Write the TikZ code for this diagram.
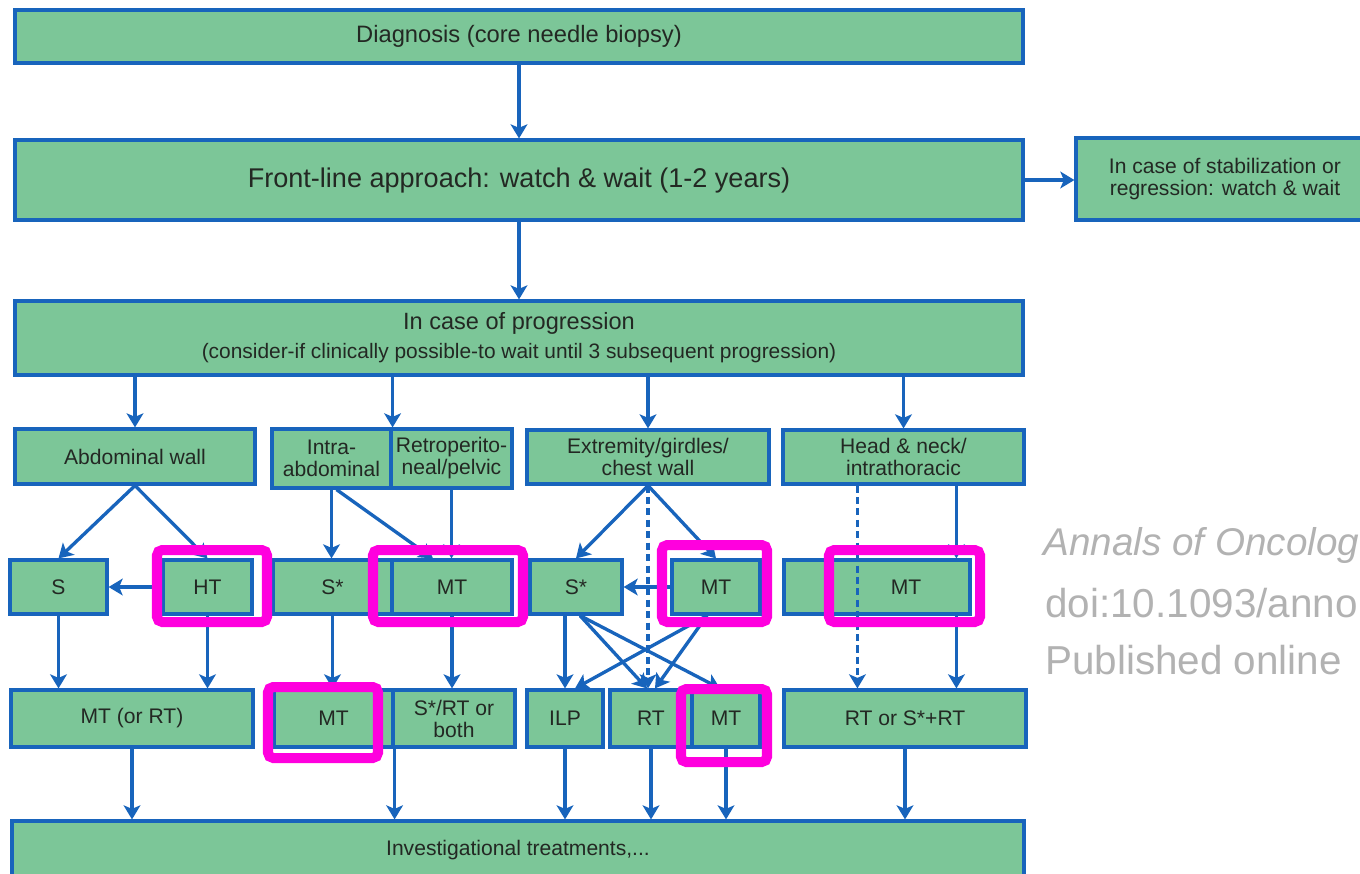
\documentclass[tikz,border=0pt]{standalone}
\usepackage{fontspec}
\setmainfont{Liberation Sans}
\usetikzlibrary{arrows.meta,calc}
\definecolor{boxgreen}{RGB}{124,198,152}
\definecolor{boxblue}{RGB}{24,100,188}
\definecolor{hilite}{RGB}{255,0,222}
\definecolor{txt}{RGB}{35,40,35}

\begin{document}
\begin{tikzpicture}[x=0.02cm, y=-0.02cm,
	box/.style={draw=boxblue, fill=boxgreen, line width=1.8pt, inner sep=0pt, align=center, text=txt, font=\fontsize{12}{12.5}\selectfont},
	sz/.style 2 args={minimum width=#1*0.02cm, minimum height=#2*0.02cm},
	arr/.style={draw=boxblue, line width=1.9pt, -{Stealth[length=8pt,width=9.5pt,inset=2pt]}},
	dsh/.style={dash pattern=on 4pt off 2.5pt},
	hl/.style={draw=hilite, line width=5.7pt, rounded corners=3pt},
	side/.style={anchor=west, inner sep=0pt, text=gray!60, font=\fontsize{23}{25}\selectfont}]
	\useasboundingbox (0,0) rectangle (1360,873);
	\clip (0,0) rectangle (1360,873);
	\fill[white] (0,0) rectangle (1360,873);

	\node[box, sz={1008}{53}, font=\fontsize{13.5}{16}\selectfont] (diag) at (519,36.5) {Diagnosis (core needle biopsy)};
	\node[box, sz={1008}{80}, font=\fontsize{15.4}{18}\selectfont] (front) at (519,180) {Front-line approach: watch \& wait (1-2 years)};
	\node[box, sz={298}{82}] (stab) at (1225,179) {In case of stabilization or\\regression: watch \& wait};
	\node[box, sz={1008}{74}, font=\fontsize{11.9}{14}\selectfont] (prog) at (519,338) {{\fontsize{13.4}{15}\selectfont In case of progression}\\[2.5pt](consider-if clinically possible-to wait until 3 subsequent progression)};

	\node[box, sz={240}{55}] (abd) at (135,456.5) {Abdominal wall};
	\node[box, sz={119}{59}] (intra) at (331.5,458.5) {Intra-\\abdominal};
	\node[box, sz={121}{59}] (retro) at (451.5,458.5) {Retroperito-\\neal/pelvic};
	\node[box, sz={242}{54}] (extr) at (648,457) {Extremity/girdles/\\chest wall};
	\node[box, sz={241}{54}] (head) at (903.5,457) {Head \& neck/\\intrathoracic};

	\node[box, sz={97}{54}] (S) at (58.5,587) {S};
	\node[box, sz={89}{54}] (HT) at (207.5,587) {HT};
	\node[box, sz={119}{54}] (Sst) at (332.5,587) {S*};
	\node[box, sz={120}{54}] (MTa) at (452,587) {MT};
	\node[box, sz={92}{54}] (Sstb) at (576,587) {S*};
	\node[box, sz={88}{54}] (MTb) at (716,587) {MT};
	\node[box, sz={186}{54}] (MTc) at (877,587) {};
	\node[text=txt, inner sep=0pt, font=\fontsize{12}{12.5}\selectfont] (MTctext) at (906,587) {MT};

	\node[box, sz={242}{57}] (MTorRT) at (132,718.5) {MT (or RT)};
	\node[box, sz={119}{57}] (MTd) at (333.5,718.5) {MT};
	\node[box, sz={122}{57}] (SRT) at (454,718.5) {S*/RT or\\both};
	\node[box, sz={76}{57}] (ILP) at (565,718.5) {ILP};
	\node[box, sz={82}{57}] (RT) at (651,718.5) {RT};
	\node[box, sz={68}{57}] (MTe) at (726,718.5) {MT};
	\node[box, sz={242}{57}] (RTS) at (905,718.5) {RT or S*+RT};

	\node[box, sz={1012}{58}] (inv) at (518,850) {Investigational treatments,...};

	\draw[arr] (diag) -- (front);
	\draw[arr] (front.east) -- (stab.west |- front.east);
	\draw[arr] (front) -- (prog);
	\foreach \t in {abd.north, intra.north east, extr.north, head.north}
		\draw[arr] (prog.south -| \t) -- (\t);

	\draw[arr] (abd.south) -- (S.north);
	\draw[arr] (abd.south) -- (HT.north);
	\draw[arr] (HT) -- (S);
	\draw[arr] (intra.south) -- (intra.south |- Sst.north);
	\draw[arr] ($(intra.south)+(5,0)$) -- ($(MTa.north)+(-19,0)$);
	\draw[arr] (retro.south) -- (retro.south |- MTa.north);
	\draw[arr] (extr.south) -- (Sstb.north);
	\draw[arr] (extr.south) -- (MTb.north);
	\draw[arr, dsh] (extr.south) -- (extr.south |- RT.north);
	\draw[arr] (MTb) -- (Sstb);
	\draw[arr, dsh] ($(head.south west)+(76,0)$) -- ($(RTS.north west)+(75,0)$);
	\draw[arr] ($(head.south west)+(175,0)$) coordinate (hn) -- (hn |- MTc.north);
	\draw[arr] (hn |- MTc.south) -- (hn |- RTS.north);

	\draw[arr] (S.south) -- (S.south |- MTorRT.north);
	\draw[arr] (HT.south) -- (HT.south |- MTorRT.north);
	\draw[arr] (Sst.south) -- (Sst.south |- MTd.north);
	\draw[arr] (MTa.south) -- (MTa.south |- SRT.north);
	\draw[arr] (ILP.north |- Sstb.south) -- (ILP.north);
	\draw[arr] ($(Sstb.south)+(4,0)$) -- ($(RT.north)+(-4,0)$);
	\draw[arr] ($(Sstb.south)+(4,0)$) -- ($(MTe.north)+(-6,0)$);
	\draw[arr] ($(MTb.south)+(-9,0)$) -- ($(ILP.north)+(10,0)$);
	\draw[arr] ($(MTb.south)+(-9,0)$) -- ($(RT.north)+(4,0)$);

	\foreach \t in {MTorRT.south, MTd.south east, ILP.south, RT.south, MTe.south, RTS.south}
		\draw[arr] (\t) -- (\t |- inv.north);

	\foreach \a/\b in {{157,550}/{267,622}, {373,550}/{523,622}, {662,545}/{767,622}, {829,550}/{980,622}, {268,687}/{378,758}, {681,689}/{767,762}}
		\draw[hl] (\a) rectangle (\b);

	\node[side, font=\fontsize{22}{24}\selectfont\itshape] (journal) at (1043,545) {Annals of Oncolog};
	\node[side] (doi) at (1045,603) {doi:10.1093/anno};
	\node[side] (pub) at (1045,660) {Published online};
\end{tikzpicture}
\end{document}
